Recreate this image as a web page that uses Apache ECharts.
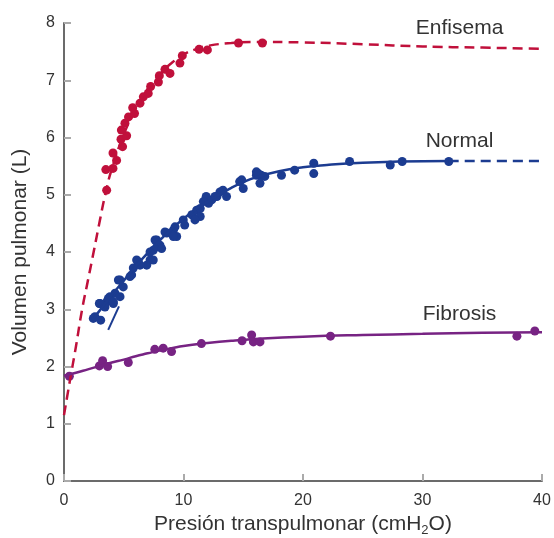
<!DOCTYPE html>
<html>
<head>
<meta charset="utf-8">
<script src="https://cdn.jsdelivr.net/npm/echarts@6/dist/echarts.min.js"></script>
<style>
html,body{margin:0;padding:0;background:#fff;}
#main{width:554px;height:538px;}
</style>
</head>
<body>
<div id="main"></div>
<script>
// puntos medidos [presion, volumen]
var enfisemaPts = [[3.57,5.08],[3.5,5.44],[4.1,5.46],[4.4,5.6],[4.1,5.73],[4.9,5.84],[4.77,5.97],[5.24,6.03],
	[4.8,6.13],[5.1,6.25],[5.4,6.36],[5.9,6.42],[5.75,6.52],[6.36,6.6],[6.64,6.71],[7.05,6.77],[7.25,6.89],
	[7.9,6.97],[7.98,7.08],[8.45,7.19],[8.87,7.12],[9.7,7.3],[9.9,7.43],[11.3,7.54],[12.0,7.53],[14.6,7.65],[16.6,7.65]];
var normalPts = [[2.45,2.84],[3.07,2.81],[2.96,3.1],[3.57,3.13],[3.85,3.22],[4.27,3.28],[4.13,3.1],[4.69,3.51],
	[4.96,3.39],[5.66,3.6],[5.8,3.72],[6.22,3.83],[6.92,3.77],[7.2,3.86],[7.47,4.03],[7.76,4.21],[8.03,4.12],
	[8.6,4.33],[9.15,4.38],[9.43,4.27],[9.98,4.56],[10.7,4.65],[11.1,4.73],[11.4,4.62],[11.9,4.97],[12.1,4.85],
	[12.8,4.97],[13.3,5.08],[13.6,4.97],[13.05,5.05],[14.7,5.23],[15.0,5.11],[16.1,5.34],[16.1,5.4],[16.5,5.34],
	[18.2,5.34],[19.3,5.43],[20.9,5.55],[20.9,5.37],[23.9,5.58],[27.3,5.52],[28.3,5.58],[32.2,5.58],
	[2.59,2.87],[3.01,3.1],[3.43,3.04],[3.71,3.19],[4.13,3.13],[4.69,3.22],[4.55,3.51],[5.52,3.57],[6.08,3.86],
	[6.36,3.77],[7.2,4.0],[7.47,3.86],[7.62,4.21],[7.76,4.09],[8.17,4.06],[8.45,4.35],[9.15,4.27],[9.29,4.44],
	[10.1,4.47],[10.96,4.56],[11.4,4.76],[11.66,4.88],[12.36,4.91],[12.64,4.97],[14.87,5.26],[16.26,5.37],
	[16.4,5.2],[16.8,5.32]];
var fibrosisPts = [[0.45,1.83],[2.96,2.01],[3.23,2.1],[3.65,2.0],[5.38,2.07],[7.6,2.3],[8.3,2.32],[9.0,2.26],
	[11.5,2.4],[14.9,2.45],[15.7,2.55],[15.85,2.43],[16.4,2.43],[22.3,2.53],[37.9,2.53],[39.4,2.62]];

// curvas ajustadas
var enfisemaCurva = [[0,1.15],[0.5,1.76],[1,2.35],[1.5,2.98],[2,3.5],[2.5,4.02],[3,4.55],[3.5,5.05],[4,5.45],
	[5,6.05],[6,6.5],[7,6.85],[8,7.1],[9,7.3],[10,7.45],[11,7.54],[12,7.6],[14,7.65],[16,7.67],[20,7.66],
	[25,7.63],[30,7.59],[35,7.57],[40,7.55]];
var normalCurva = [[2.5,2.85],[3,2.98],[4,3.25],[5,3.5],[6,3.75],[7,3.98],[8,4.2],[9,4.4],[10,4.58],[11,4.74],
	[12,4.88],[13,5.0],[14,5.12],[15,5.22],[16,5.3],[18,5.41],[20,5.48],[22,5.52],[25,5.56],[28,5.58],[32.2,5.59]];
var normalExtra = [[32.2,5.59],[40,5.59]];
var normalTangente = [[3.7,2.64],[4.6,3.05]];
var fibrosisCurva = [[0,1.84],[1,1.89],[2,1.95],[3,2.01],[4,2.07],[5,2.12],[6,2.18],[7,2.23],[8,2.28],[9,2.32],
	[10,2.36],[12,2.41],[14,2.45],[16,2.48],[20,2.52],[25,2.55],[30,2.57],[35,2.59],[40,2.6]];

var etiquetas = [[33.1,7.91,'Enfisema'],[33.1,5.94,'Normal'],[33.1,2.92,'Fibrosis']];

var cRojo = '#c0103b', cAzul = '#1c3c91', cMorado = '#772383';

var myChart = echarts.init(document.getElementById('main'));

function curva(data, color, tipo){
	return {type:'line', data:data, smooth:true, showSymbol:false, silent:true,
		lineStyle:{color:color, width:2.5, type:tipo}};
}
function puntos(data, color){
	return {type:'scatter', data:data, symbolSize:9, itemStyle:{color:color, opacity:1}, silent:true};
}

var option = {
	animation:false,
	textStyle:{fontFamily:'Liberation Sans'},
	grid:{left:64, right:12, top:23, bottom:57, containLabel:false, outerBoundsMode:'none'},
	xAxis:{
		type:'value', min:0, max:40, interval:10,
		name:'Presión transpulmonar (cmH{sub|2}O)',
		nameLocation:'middle', nameGap:30,
		nameTextStyle:{fontSize:21, color:'#333', fontFamily:'Liberation Sans',
			rich:{sub:{fontSize:13, color:'#333', verticalAlign:'bottom', padding:[12,0,0,0], fontFamily:'Liberation Sans'}}},
		axisLine:{lineStyle:{color:'#6b6b6b', width:2}},
		axisTick:{inside:true, length:7, lineStyle:{color:'#aaa', width:2}},
		axisLabel:{fontSize:16, color:'#333', margin:12},
		splitLine:{show:false}
	},
	yAxis:{
		type:'value', min:0, max:8, interval:1,
		name:'Volumen pulmonar (L)',
		nameLocation:'middle', nameGap:33, nameRotate:90,
		nameTextStyle:{fontSize:21, color:'#333'},
		axisLine:{show:true, lineStyle:{color:'#6b6b6b', width:2}},
		axisTick:{show:true, inside:true, length:7, lineStyle:{color:'#aaa', width:2}},
		axisLabel:{fontSize:16, color:'#333', margin:9},
		splitLine:{show:false}
	},
	series:[
		curva(enfisemaCurva, cRojo, [10,6]),
		curva(normalCurva, cAzul, 'solid'),
		curva(normalExtra, cAzul, [10,6]),
		{type:'line', data:normalTangente, showSymbol:false, silent:true, lineStyle:{color:cAzul, width:2}},
		curva(fibrosisCurva, cMorado, 'solid'),
		puntos(enfisemaPts, cRojo),
		puntos(normalPts, cAzul),
		puntos(fibrosisPts, cMorado),
		{type:'scatter', symbolSize:0, silent:true, itemStyle:{opacity:1},
			data:etiquetas.map(function(e){ return {value:[e[0],e[1]], name:e[2]}; }),
			label:{show:true, position:'inside', formatter:'{b}', fontSize:21, color:'#333'}}
	]
};

myChart.setOption(option);
</script>
</body>
</html>
